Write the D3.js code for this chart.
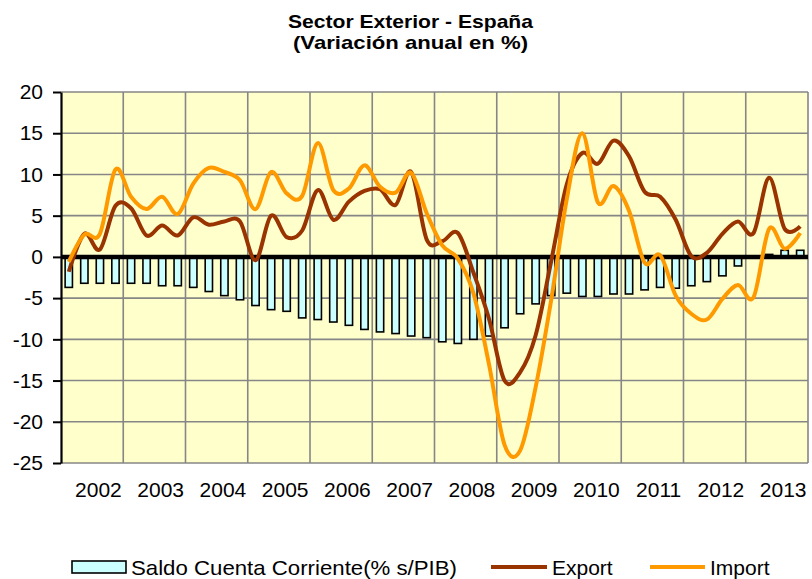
<!DOCTYPE html>
<html><head><meta charset="utf-8">
<script src="https://cdn.jsdelivr.net/npm/d3@7"></script>
<style>
html,body{margin:0;padding:0;background:#fff;}
svg{display:block;font-family:"Liberation Sans",Arial,Helvetica,sans-serif;}
</style></head><body>
<svg id="chart" width="812" height="579"></svg>
<script>
// ---------- DATA ----------
const years = ["2002","2003","2004","2005","2006","2007","2008","2009","2010","2011","2012","2013"];
const quarters = ["I","II","III","IV"];
const categories = years.flatMap(y => quarters.map(q => q + " " + y));

const saldo = [-3.7,-3.2,-3.2,-3.2, -3.2,-3.2,-3.5,-3.5, -3.7,-4.2,-4.7,-5.2,
               -5.9,-6.4,-6.6,-7.4, -7.6,-7.9,-8.3,-8.8, -9.1,-9.3,-9.6,-9.8,
               -10.3,-10.5,-10.0,-9.6, -8.6,-6.9,-5.7,-4.7, -4.4,-4.8,-4.8,-4.5,
               -4.5,-4.0,-3.7,-3.8, -3.5,-3.0,-2.3,-1.1, 0.0,0.3,0.8,0.8];

const exportVals = [-1.8,2.8,0.9,6.2, 5.9,2.6,3.8,2.6, 4.8,3.9,4.3,4.3,
                    -0.4,5.0,2.4,3.2, 8.1,4.5,6.7,8.0, 8.2,6.3,10.3,2.1,
                    1.9,2.9,-1.9,-7.5, -15.0,-14.0,-9.5,-0.5, 8.8,12.6,11.3,14.1,
                    12.2,7.9,7.3,4.5, 0.1,0.5,2.8,4.3, 2.9,9.6,3.4,3.7];

const importVals = [-0.6,2.7,2.8,10.6, 7.3,5.8,7.3,5.2, 8.9,10.8,10.3,9.3,
                    5.8,10.3,7.7,7.4, 13.8,8.1,8.3,11.1, 8.5,7.8,10.2,5.3,
                    1.4,-0.2,-4.4,-13.0, -22.8,-23.5,-15.8,-5.2, 7.0,15.0,6.6,8.6,
                    5.6,-0.7,0.2,-4.7, -6.9,-7.6,-5.1,-3.4, -4.9,3.4,1.0,2.9];

const yTicks = [20,15,10,5,0,-5,-10,-15,-20,-25];
const titleLines = ["Sector Exterior - España", "(Variación anual en %)"];
const legendLabels = ["Saldo Cuenta Corriente(% s/PIB)", "Export", "Import"];

// ---------- LAYOUT ----------
const svg = d3.select("#chart");
const L = 61, R = 808, T = 92, B = 463;
const FONT = 21;
const colExport = "#993300", colImport = "#FF9900";
const gridCol = "#868686";

const x = d3.scaleBand().domain(categories).range([L, R]).paddingInner(0.53).paddingOuter(0.265);
const y = d3.scaleLinear().domain([-25, 20]).range([B, T]);
const step = x.step(), bw = x.bandwidth();
const cx = c => x(c) + bw / 2;
const boundary = i => x(categories[i]) - step * x.paddingInner() / 2;

// plot background
svg.append("rect").attr("x", L).attr("y", T).attr("width", R - L).attr("height", B - T).attr("fill", "#FFFFCC");

// horizontal grid
svg.append("g").selectAll("line").data(yTicks).join("line")
  .attr("x1", L).attr("x2", R).attr("y1", d => y(d)).attr("y2", d => y(d))
  .attr("stroke", gridCol).attr("stroke-width", 1.6);

// vertical grid at year boundaries
const vIdx = d3.range(1, years.length + 1).map(k => k * 4);
svg.append("g").selectAll("line").data(vIdx).join("line")
  .attr("x1", d => d < categories.length ? boundary(d) : R)
  .attr("x2", d => d < categories.length ? boundary(d) : R)
  .attr("y1", T).attr("y2", B)
  .attr("stroke", gridCol).attr("stroke-width", 1.6);

// bars
svg.append("g").selectAll("rect").data(saldo).join("rect")
  .attr("x", (d, i) => x(categories[i]))
  .attr("width", bw)
  .attr("y", d => y(Math.max(0, d)))
  .attr("height", d => Math.abs(y(d) - y(0)))
  .attr("fill", "#CCFFFF").attr("stroke", "#000").attr("stroke-width", 1.6);

// zero line (category axis)
svg.append("line").attr("x1", L).attr("x2", R).attr("y1", y(0)).attr("y2", y(0))
  .attr("stroke", "#000").attr("stroke-width", 4.5);

// lines
const line = d3.line().x((d, i) => cx(categories[i])).y(d => y(d)).curve(d3.curveCardinal.tension(0));
svg.append("path").datum(exportVals).attr("d", line).attr("fill", "none")
  .attr("stroke", colExport).attr("stroke-width", 4).attr("stroke-linejoin", "round");
svg.append("path").datum(importVals).attr("d", line).attr("fill", "none")
  .attr("stroke", colImport).attr("stroke-width", 4).attr("stroke-linejoin", "round");

// y axis
const yAxis = svg.append("g").attr("transform", `translate(${L},0)`)
  .call(d3.axisLeft(y).tickValues(yTicks).tickFormat(d => String(d)).tickSize(8).tickSizeOuter(0).tickPadding(10));
yAxis.select(".domain").attr("stroke", "#000").attr("stroke-width", 2.2);
yAxis.selectAll(".tick line").attr("stroke", "#000").attr("stroke-width", 2);
yAxis.selectAll("text").attr("font-size", FONT).attr("fill", "#000")
  .attr("font-family", '"Liberation Sans",Arial,sans-serif');

// x labels (years) placed at third quarter of each year
const labelCats = years.map(yr => "III " + yr);
const xAxis = svg.append("g").attr("transform", `translate(0,${B})`)
  .call(d3.axisBottom(x).tickValues(labelCats).tickFormat(c => c.split(" ")[1]).tickSize(0).tickPadding(19));
xAxis.select(".domain").remove();
xAxis.selectAll("text").attr("font-size", FONT).attr("fill", "#000")
  .attr("font-family", '"Liberation Sans",Arial,sans-serif')
  .attr("dx", -1.5);

// title
const title = svg.append("g").attr("font-weight", "bold").attr("font-size", 19).attr("text-anchor", "middle");
title.append("text").attr("x", 410.5).attr("y", 28).attr("textLength", 245).attr("lengthAdjust", "spacingAndGlyphs").text(titleLines[0]);
title.append("text").attr("x", 410.5).attr("y", 48.5).attr("textLength", 235).attr("lengthAdjust", "spacingAndGlyphs").text(titleLines[1]);

// legend
const lg = svg.append("g").attr("font-size", FONT);
lg.append("rect").attr("x", 72).attr("y", 561).attr("width", 54).attr("height", 12)
  .attr("fill", "#CCFFFF").attr("stroke", "#000").attr("stroke-width", 1.6);
lg.append("text").attr("x", 131).attr("y", 574.5).attr("textLength", 326).attr("lengthAdjust", "spacingAndGlyphs").text(legendLabels[0]);
lg.append("line").attr("x1", 491).attr("x2", 547).attr("y1", 567).attr("y2", 567).attr("stroke", colExport).attr("stroke-width", 4);
lg.append("text").attr("x", 552).attr("y", 574.5).text(legendLabels[1]);
lg.append("line").attr("x1", 650).attr("x2", 705).attr("y1", 567).attr("y2", 567).attr("stroke", colImport).attr("stroke-width", 4);
lg.append("text").attr("x", 710).attr("y", 574.5).text(legendLabels[2]);
</script>
</body></html>
